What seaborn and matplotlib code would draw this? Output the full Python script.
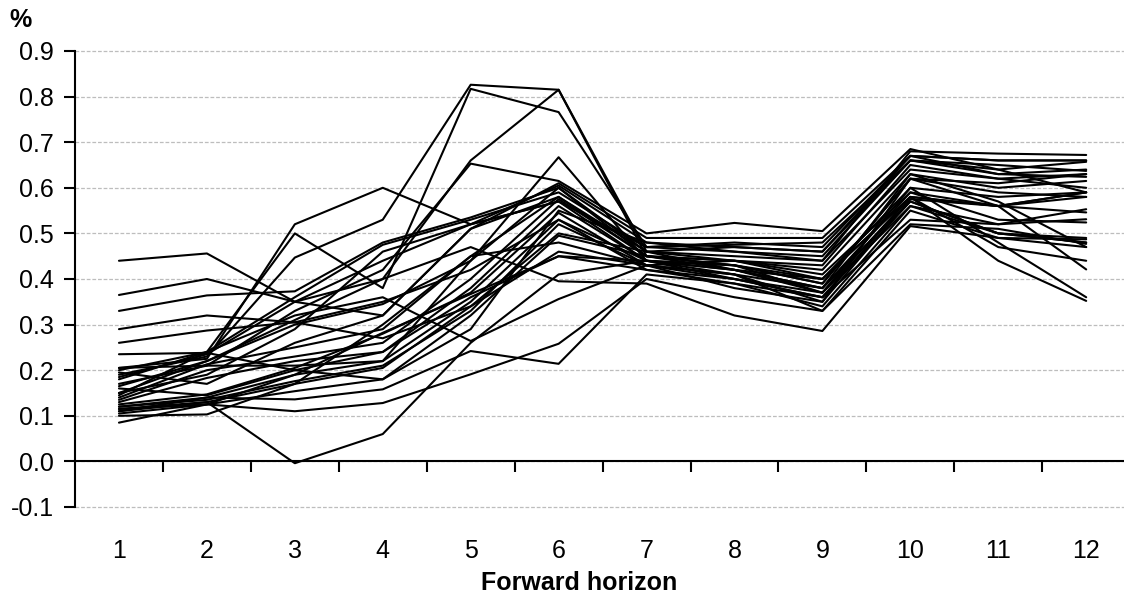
import matplotlib
matplotlib.use("Agg")
import numpy as np
import pandas as pd
import matplotlib.pyplot as plt
import seaborn as sns

horizons = list(range(1, 13))
tick_labels = [str(h) for h in horizons]
y_ticks = [-0.1, 0.0, 0.1, 0.2, 0.3, 0.4, 0.5, 0.6, 0.7, 0.8, 0.9]
y_labels = ["-0.1", "0.0", "0.1", "0.2", "0.3", "0.4", "0.5", "0.6", "0.7", "0.8", "0.9"]

# one list per line (x = 1..12)
s01 = [0.440, 0.456, 0.350, 0.320, 0.510, 0.580, 0.450, 0.440, 0.400, 0.580, 0.560, 0.590]
s02 = [0.365, 0.400, 0.350, 0.440, 0.520, 0.570, 0.440, 0.430, 0.390, 0.620, 0.610, 0.630]
s03 = [0.330, 0.364, 0.373, 0.480, 0.535, 0.600, 0.460, 0.470, 0.460, 0.660, 0.630, 0.640]
s04 = [0.290, 0.320, 0.305, 0.270, 0.340, 0.460, 0.430, 0.410, 0.380, 0.570, 0.500, 0.480]
s05 = [0.260, 0.287, 0.305, 0.350, 0.420, 0.530, 0.440, 0.420, 0.400, 0.600, 0.480, 0.360]
s06 = [0.235, 0.238, 0.200, 0.180, 0.290, 0.550, 0.480, 0.460, 0.440, 0.640, 0.620, 0.600]
s07 = [0.205, 0.225, 0.520, 0.600, 0.520, 0.570, 0.470, 0.480, 0.470, 0.670, 0.660, 0.660]
s08 = [0.200, 0.240, 0.500, 0.380, 0.817, 0.766, 0.470, 0.460, 0.450, 0.660, 0.640, 0.590]
s09 = [0.190, 0.230, 0.447, 0.530, 0.826, 0.815, 0.450, 0.440, 0.430, 0.650, 0.620, 0.630]
s10 = [0.185, 0.235, 0.350, 0.400, 0.660, 0.815, 0.460, 0.450, 0.440, 0.680, 0.675, 0.672]
s11 = [0.170, 0.210, 0.330, 0.420, 0.653, 0.615, 0.500, 0.523, 0.505, 0.685, 0.640, 0.657]
s12 = [0.165, 0.220, 0.300, 0.345, 0.440, 0.667, 0.440, 0.410, 0.350, 0.620, 0.590, 0.580]
s13 = [0.150, 0.190, 0.290, 0.460, 0.520, 0.605, 0.480, 0.470, 0.460, 0.670, 0.630, 0.624]
s14 = [0.145, 0.240, 0.360, 0.475, 0.530, 0.590, 0.470, 0.475, 0.480, 0.660, 0.650, 0.637]
s15 = [0.140, 0.213, 0.250, 0.290, 0.450, 0.580, 0.460, 0.440, 0.420, 0.630, 0.600, 0.615]
s16 = [0.135, 0.200, 0.230, 0.260, 0.400, 0.575, 0.450, 0.430, 0.390, 0.620, 0.560, 0.546]
s17 = [0.130, 0.183, 0.220, 0.240, 0.380, 0.560, 0.440, 0.420, 0.370, 0.580, 0.560, 0.590]
s18 = [0.125, 0.147, 0.205, 0.280, 0.370, 0.545, 0.430, 0.400, 0.360, 0.570, 0.500, 0.490]
s19 = [0.120, 0.140, 0.190, 0.220, 0.350, 0.530, 0.420, 0.390, 0.340, 0.560, 0.520, 0.553]
s20 = [0.120, 0.135, 0.176, 0.210, 0.330, 0.520, 0.430, 0.410, 0.330, 0.550, 0.490, 0.470]
s21 = [0.115, 0.130, 0.170, 0.205, 0.340, 0.500, 0.460, 0.420, 0.380, 0.590, 0.530, 0.524]
s22 = [0.115, 0.125, 0.154, 0.180, 0.320, 0.495, 0.450, 0.430, 0.370, 0.560, 0.500, 0.480]
s23 = [0.110, 0.130, -0.004, 0.060, 0.260, 0.410, 0.440, 0.430, 0.400, 0.580, 0.470, 0.440]
s24 = [0.110, 0.140, 0.136, 0.158, 0.242, 0.214, 0.410, 0.390, 0.360, 0.530, 0.520, 0.531]
s25 = [0.105, 0.125, 0.110, 0.128, 0.191, 0.258, 0.400, 0.360, 0.330, 0.520, 0.510, 0.477]
s26 = [0.100, 0.103, 0.170, 0.300, 0.450, 0.480, 0.430, 0.380, 0.350, 0.575, 0.560, 0.580]
s27 = [0.085, 0.125, 0.190, 0.282, 0.367, 0.450, 0.420, 0.400, 0.360, 0.580, 0.440, 0.352]
s28 = [0.150, 0.220, 0.310, 0.400, 0.470, 0.395, 0.390, 0.320, 0.286, 0.516, 0.490, 0.487]
s29 = [0.180, 0.240, 0.320, 0.360, 0.264, 0.356, 0.430, 0.440, 0.410, 0.590, 0.560, 0.421]
s30 = [0.195, 0.170, 0.260, 0.320, 0.510, 0.610, 0.490, 0.490, 0.490, 0.670, 0.660, 0.660]
s31 = [0.160, 0.145, 0.200, 0.240, 0.360, 0.450, 0.440, 0.400, 0.370, 0.600, 0.580, 0.590]
s32 = [0.205, 0.210, 0.210, 0.220, 0.440, 0.600, 0.450, 0.420, 0.380, 0.630, 0.570, 0.470]

series = [s01, s02, s03, s04, s05, s06, s07, s08, s09, s10, s11, s12, s13, s14, s15, s16,
          s17, s18, s19, s20, s21, s22, s23, s24, s25, s26, s27, s28, s29, s30, s31, s32]

rows = []
for i, vals in enumerate(series):
    for h, v in zip(horizons, vals):
        rows.append({"series": i, "horizon": h, "value": v})
df = pd.DataFrame(rows)

sns.set_style("white")
plt.rcParams["font.family"] = ["Liberation Sans", "DejaVu Sans"]
plt.rcParams["font.size"] = 18
for key in ["text.color", "axes.labelcolor", "xtick.color", "ytick.color"]:
    plt.rcParams[key] = "black"

fig = plt.figure(figsize=(11.24, 5.95), dpi=100)
ax = fig.add_axes([75 / 1124, 88 / 595, 1 - 75 / 1124, 456 / 595])

sns.lineplot(data=df, x="horizon", y="value", units="series", estimator=None,
             color="black", linewidth=1.5, legend=False, ax=ax)

ax.set_xlim(0.5, 12.43)
ax.set_ylim(-0.1, 0.9)

# category axis: ticks between categories, labels sitting below the plot
ax.set_xticks([h + 0.5 for h in horizons[:-1]])
ax.set_xticklabels([])
ax.set_xticks(horizons, labels=tick_labels, minor=True)
ax.tick_params(axis="x", which="major", bottom=True, direction="out", length=8, width=1.5, color="black")
ax.tick_params(axis="x", which="minor", bottom=True, length=0, pad=56, labelsize=18)

ax.set_yticks(y_ticks, labels=y_labels)
ax.tick_params(axis="y", left=True, direction="out", length=8, width=1.5, color="black", pad=7, labelsize=18)

for side in ["top", "right"]:
    ax.spines[side].set_visible(False)
ax.spines["bottom"].set_position(("data", 0))
ax.spines["bottom"].set_linewidth(1.5)
ax.spines["left"].set_linewidth(1.5)
ax.spines["bottom"].set_color("black")
ax.spines["left"].set_color("black")

ax.grid(axis="y", color="#bdbdbd", linestyle=(0, (3, 1.5)), linewidth=0.9)
ax.grid(axis="x", visible=False)
ax.set_axisbelow(True)
for gl in ax.get_ygridlines():
    gl.set_clip_on(False)

ax.set_ylabel("")
ax.set_xlabel("Forward horizon", fontweight="bold", fontsize=18)
ax.xaxis.set_label_coords(0.481, -0.14)

fig.text(21 / 1124, 1 - 20 / 595, "%", ha="center", va="center", fontweight="bold", fontsize=18)

fig.savefig("out.png", dpi=100)
